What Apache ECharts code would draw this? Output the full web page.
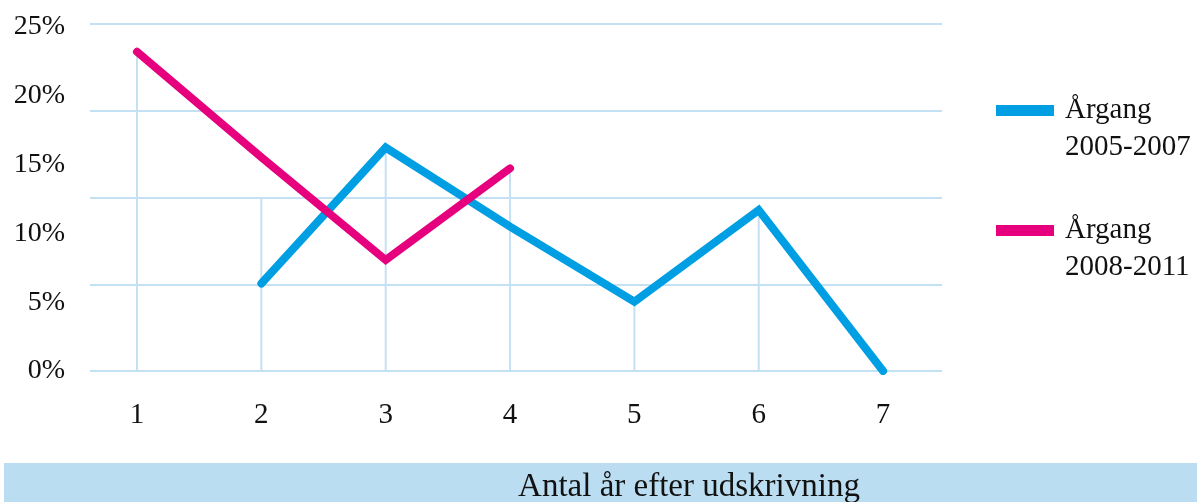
<!DOCTYPE html>
<html>
<head>
<meta charset="utf-8">
<script src="https://cdn.jsdelivr.net/npm/echarts@6/dist/echarts.min.js"></script>
<style>
html,body{margin:0;padding:0;background:#fff;}
#chart{width:1197px;height:502px;}
</style>
</head>
<body>
<div id="chart"></div>
<script>
const years = [1, 2, 3, 4, 5, 6, 7];
const seriesNames = ['Årgang\n2005-2007', 'Årgang\n2008-2011'];
const cohort2005 = [null, 6.3, 16.1, 10.4, 5.0, 11.6, 0];
const cohort2008 = [23.0, 15.4, 8.0, 14.6, null, null, null];
const guideTops = [23.0, 12.5, 16.1, 14.6, 5.0, 11.6, 0];
const yTickValues = [0, 5, 10, 15, 20, 25];
const yTickLabels = ['0%', '5%', '10%', '15%', '20%', '25%'];
const xTitle = 'Antal år efter udskrivning';

const FONT = 'Liberation Serif';
const GRID_C = '#c3e1f3';
const BLUE = '#009fe3';
const MAGENTA = '#e6007e';

const pair = arr => years.map((x, i) => [x, arr[i]]);

const chart = echarts.init(document.getElementById('chart'));
chart.setOption({
  animation: false,
  backgroundColor: '#ffffff',
  grid: { left: 90, right: 255, top: 24, bottom: 131, containLabel: false },
  xAxis: {
    type: 'value', min: 0.622, max: 7.474,
    axisLine: { show: false }, axisTick: { show: false }, splitLine: { show: false },
    axisLabel: {
      customValues: years,
      color: '#111', fontFamily: FONT, fontSize: 29, margin: 30,
      formatter: v => String(v)
    }
  },
  yAxis: [
    {
      type: 'value', min: 0, max: 25, interval: 6.25,
      axisLine: { show: false }, axisTick: { show: false }, axisLabel: { show: false },
      splitLine: { show: true, lineStyle: { color: GRID_C, width: 2 } }
    },
    {
      type: 'value', min: 0, max: 25.22, position: 'left',
      axisLine: { show: false }, axisTick: { show: false }, splitLine: { show: false },
      axisLabel: {
        customValues: yTickValues,
        color: '#111', fontFamily: FONT, fontSize: 28, margin: 25,
        formatter: v => yTickLabels[yTickValues.indexOf(Math.round(v))] || ''
      }
    }
  ],
  legend: {
    orient: 'vertical', left: 996, top: 55, padding: 0, itemGap: 9,
    itemWidth: 58, itemHeight: 11, icon: 'rect',
    itemStyle: { borderWidth: 0 },
    formatter: name => ' \n' + name,
    textStyle: { fontFamily: FONT, fontSize: 29, color: '#111', lineHeight: 37, padding: [0, 0, 0, 6] },
    data: seriesNames
  },
  graphic: [
    { type: 'rect', left: 4, top: 463, shape: { width: 1193, height: 39 }, style: { fill: '#bbddf1' }, z: 0 },
    { type: 'text', x: 689, y: 487, style: { text: xTitle, font: '33px "Liberation Serif"', fill: '#111', align: 'center', verticalAlign: 'middle' }, z: 1 }
  ],
  series: [
    {
      type: 'bar', yAxisIndex: 0, data: pair(guideTops), barWidth: 2,
      itemStyle: { color: GRID_C }, silent: true, z: 1, legendHoverLink: false
    },
    {
      name: seriesNames[0], type: 'line', yAxisIndex: 0, data: pair(cohort2005),
      showSymbol: false, symbol: 'none', z: 3,
      lineStyle: { color: BLUE, width: 8, cap: 'round', join: 'miter' },
      itemStyle: { color: BLUE }
    },
    {
      name: seriesNames[1], type: 'line', yAxisIndex: 0, data: pair(cohort2008),
      showSymbol: false, symbol: 'none', z: 4,
      lineStyle: { color: MAGENTA, width: 8, cap: 'round', join: 'miter' },
      itemStyle: { color: MAGENTA }
    }
  ]
});
</script>
</body>
</html>
